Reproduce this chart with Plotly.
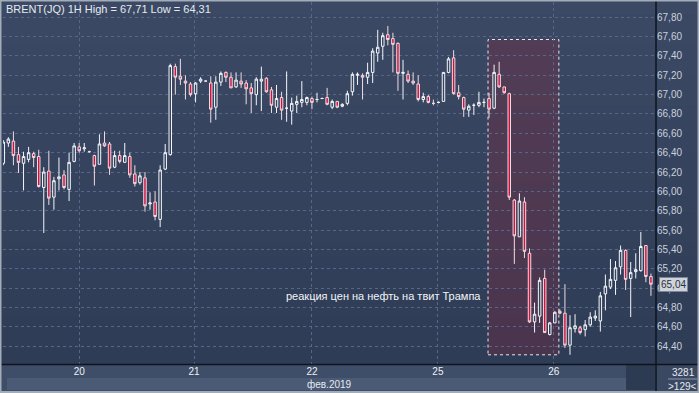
import plotly.graph_objects as go

# ---------------- data ----------------
opens = [66.29, 66.50, 66.52, 66.38, 66.29, 66.33, 66.39, 66.36, 66.04, 66.21,
         65.94, 66.13, 66.17, 66.02, 66.31, 66.46, 66.44, 66.41, 66.37, 66.28,
         66.50, 66.49, 66.25, 66.37, 66.30, 66.36, 66.18, 66.09, 66.14, 65.87,
         65.89, 65.71, 66.23, 66.38, 67.29, 67.19, 67.14, 67.11, 67.01, 67.14,
         67.14, 67.12, 66.87, 67.13, 67.23, 67.18, 67.08, 67.14, 67.12, 67.07,
         67.00, 67.14, 67.17, 67.05, 66.87, 66.97, 66.86, 66.83, 66.90, 66.92,
         66.92, 66.96, 66.95, 66.96, 66.97, 66.87, 66.93, 66.88, 66.91, 67.03,
         67.20, 67.20, 67.18, 67.23, 67.43, 67.50, 67.62, 67.58, 67.53, 67.22,
         67.21, 67.14, 67.11, 66.95, 66.98, 66.91, 66.92, 66.93, 67.23, 67.38,
         67.02, 66.97, 66.84, 66.89, 66.89, 66.92, 66.96, 66.86, 67.21, 67.08,
         67.01, 65.91, 65.53, 65.89, 65.36, 64.65, 64.71, 65.10, 64.52, 64.64,
         64.76, 64.74, 64.41, 64.58, 64.59, 64.57, 64.62, 64.69, 64.66, 64.94,
         65.01, 65.08, 65.22, 65.39, 65.10, 65.17, 65.18, 65.44, 65.12]
highs = [66.53, 66.56, 66.62, 66.46, 66.41, 66.46, 66.41, 66.43, 66.25, 66.42,
         66.15, 66.35, 66.22, 66.40, 66.50, 66.50, 66.50, 66.42, 66.38, 66.59,
         66.62, 66.51, 66.42, 66.42, 66.50, 66.40, 66.27, 66.20, 66.20, 65.99,
         66.00, 66.27, 66.49, 67.32, 67.32, 67.37, 67.20, 67.13, 67.13, 67.18,
         67.15, 67.19, 67.19, 67.24, 67.24, 67.23, 67.23, 67.23, 67.15, 67.12,
         67.18, 67.29, 67.18, 67.08, 67.10, 67.03, 67.24, 66.97, 66.99, 67.14,
         66.98, 66.98, 67.02, 66.97, 67.07, 66.95, 66.93, 66.91, 67.04, 67.23,
         67.23, 67.22, 67.33, 67.48, 67.67, 67.64, 67.71, 67.64, 67.54, 67.36,
         67.25, 67.23, 67.20, 67.02, 67.00, 66.95, 66.93, 67.23, 67.39, 67.46,
         67.10, 66.98, 66.90, 66.91, 67.03, 66.96, 67.02, 67.31, 67.34, 67.08,
         67.02, 65.92, 65.98, 65.94, 65.41, 64.85, 65.11, 65.19, 64.65, 64.76,
         64.78, 65.04, 64.72, 64.73, 64.61, 64.67, 64.75, 64.77, 64.96, 65.14,
         65.30, 65.28, 65.44, 65.40, 65.27, 65.36, 65.58, 65.44, 65.15]
lows = [66.27, 66.46, 66.27, 66.19, 66.01, 66.30, 66.25, 66.04, 65.57, 65.86,
        65.81, 66.01, 66.02, 65.90, 66.30, 66.40, 66.41, 66.40, 66.06, 66.28,
        66.46, 66.17, 66.24, 66.29, 66.30, 66.14, 66.05, 66.07, 65.79, 65.81,
        65.70, 65.63, 66.22, 66.37, 67.00, 67.10, 66.95, 66.98, 66.92, 67.12,
        67.14, 66.71, 66.74, 67.09, 67.13, 67.07, 67.07, 67.07, 66.90, 66.81,
        66.89, 66.83, 67.02, 66.81, 66.81, 66.74, 66.72, 66.69, 66.81, 66.87,
        66.89, 66.85, 66.92, 66.96, 66.89, 66.85, 66.86, 66.87, 66.89, 66.99,
        67.10, 66.95, 67.11, 67.12, 67.34, 67.36, 67.51, 67.23, 67.04, 66.95,
        67.12, 67.10, 66.93, 66.92, 66.91, 66.89, 66.91, 66.93, 67.22, 67.00,
        66.95, 66.77, 66.77, 66.79, 66.87, 66.87, 66.76, 66.85, 67.07, 67.01,
        65.91, 65.25, 65.53, 65.31, 64.64, 64.54, 64.64, 64.54, 64.51, 64.64,
        64.73, 64.38, 64.31, 64.54, 64.52, 64.50, 64.60, 64.66, 64.55, 64.77,
        64.99, 64.93, 65.14, 64.98, 64.70, 65.10, 65.17, 65.06, 64.92]
closes = [66.51, 66.54, 66.37, 66.30, 66.36, 66.40, 66.35, 66.05, 66.20, 65.93,
          66.11, 66.15, 66.04, 66.30, 66.47, 66.42, 66.45, 66.41, 66.26, 66.49,
          66.47, 66.24, 66.37, 66.31, 66.37, 66.17, 66.08, 66.16, 65.85, 65.88,
          65.74, 66.22, 66.40, 67.30, 67.18, 67.16, 67.12, 67.00, 67.12, 67.16,
          67.14, 66.85, 67.13, 67.22, 67.18, 67.07, 67.15, 67.11, 67.06, 67.01,
          67.16, 67.16, 67.03, 66.89, 66.96, 66.84, 66.86, 66.91, 66.93, 66.95,
          66.97, 66.92, 66.95, 66.96, 66.90, 66.93, 66.87, 66.90, 67.01, 67.21,
          67.21, 67.18, 67.23, 67.45, 67.49, 67.61, 67.57, 67.52, 67.22, 67.23,
          67.14, 67.12, 66.95, 66.98, 66.92, 66.91, 66.92, 67.23, 67.37, 67.01,
          66.98, 66.85, 66.88, 66.89, 66.92, 66.92, 66.85, 67.23, 67.08, 67.02,
          65.94, 65.54, 65.90, 65.38, 64.65, 64.73, 65.08, 64.54, 64.64, 64.75,
          64.74, 64.41, 64.59, 64.61, 64.54, 64.62, 64.70, 64.71, 64.92, 65.02,
          65.09, 65.21, 65.39, 65.09, 65.16, 65.19, 65.43, 65.12, 65.04]
bars = list(range(len(opens)))

day_tick_pos = [15, 37.7, 61, 85.9, 108.8]
day_labels = ["20", "21", "22", "25", "26"]
price_ticks = [64.4, 64.6, 64.8, 65.0, 65.2, 65.4, 65.6, 65.8, 66.0,
               66.2, 66.4, 66.6, 66.8, 67.0, 67.2, 67.4, 67.6, 67.8]
price_labels = [f"{v:.2f}".replace(".", ",") for v in price_ticks]

title_text = "BRENT(JQ) 1H High = 67,71 Low = 64,31"
note_text = "реакция цен на нефть на твит Трампа"
month_text = "фев.2019"
last_price = closes[-1]
tweet_window = [95.8, 109.8]
tweet_range = [64.31, 67.57]

# ---------------- figure ----------------
BG = "#34435e"
GRID = "#56678a"
FONT = "Liberation Sans, Arial, sans-serif"

fig = go.Figure()
fig.add_trace(go.Candlestick(
    x=bars, open=opens, high=highs, low=lows, close=closes,
    increasing=dict(line=dict(color="#f4f6fa", width=1), fillcolor=BG),
    decreasing=dict(line=dict(color="#f1dbe2", width=1), fillcolor="#c8163f"),
    whiskerwidth=0, showlegend=False, hoverinfo="skip",
))

L, R, T, B = 3, 43, 2, 29
W, H = 699, 393
pw, ph = W - L - R, H - T - B


def px(xp):
    return (xp - L) / pw


def py(yp):
    return (H - B - yp) / ph


# soft vertical gradient of the chart background (top lighter, bottom darker)
shapes = []
top_rgb = (59, 73, 100)
bot_rgb = (46, 60, 86)
n_band = 24
for k in range(n_band):
    t = k / (n_band - 1)
    col = tuple(round(top_rgb[j] + (bot_rgb[j] - top_rgb[j]) * t) for j in range(3))
    y_top = 0 + 364 * k / n_band
    y_bot = 0 + 364 * (k + 1) / n_band
    shapes.append(dict(type="rect", xref="paper", yref="paper", x0=px(0), x1=px(699),
                       y0=py(y_bot + 0.5), y1=py(y_top), fillcolor="rgb(%d,%d,%d)" % col,
                       line=dict(width=0), layer="below"))

shapes += [
    # bottom axis band
    dict(type="rect", xref="paper", yref="paper", x0=px(0), x1=px(656), y0=py(393), y1=py(364),
         fillcolor="#3e4d68", line=dict(width=0), layer="below"),
    dict(type="rect", xref="paper", yref="paper", x0=px(7), x1=px(626), y0=py(390), y1=py(378),
         fillcolor="#4b5a75", line=dict(width=0), layer="below"),
    dict(type="rect", xref="paper", yref="paper", x0=px(626), x1=px(655), y0=py(390), y1=py(365),
         fillcolor="#2c3a52", line=dict(width=0), layer="below"),
    dict(type="rect", xref="paper", yref="paper", x0=px(656), x1=px(699), y0=py(393), y1=py(364),
         fillcolor="#3a4862", line=dict(width=0), layer="below"),
    dict(type="line", xref="paper", yref="paper", x0=px(668), x1=px(697), y0=py(379), y1=py(379),
         line=dict(color="#8d98aa", width=1)),
    # plot bottom and right borders
    dict(type="line", xref="paper", yref="paper", x0=px(0), x1=px(699), y0=py(364.5), y1=py(364.5),
         line=dict(color="#0f141c", width=1.5)),
    dict(type="line", xref="paper", yref="paper", x0=px(656), x1=px(656), y0=py(393), y1=py(0),
         line=dict(color="#0f141c", width=1.5)),
    # outer frame
    dict(type="rect", xref="paper", yref="paper", x0=px(0.5), x1=px(698.5), y0=py(392), y1=py(0.5),
         line=dict(color="#a3acb9", width=2)),
    # tweet reaction window
    dict(type="rect", xref="x", yref="y", x0=tweet_window[0], x1=tweet_window[1],
         y0=tweet_range[0], y1=tweet_range[1],
         fillcolor="rgba(135,40,62,0.33)", line=dict(color="#e8e8ee", width=1, dash="dot"),
         layer="below"),
]

annotations = [
    dict(text=title_text, xref="paper", yref="paper", x=px(4), y=py(9), xanchor="left",
         yanchor="middle", showarrow=False, font=dict(family=FONT, size=11, color="#e6eaf0")),
    dict(text=note_text, x=94.9, y=64.92, xanchor="right", yanchor="middle", showarrow=False,
         font=dict(family=FONT, size=11, color="#f2f4f8")),
    dict(text=month_text, xref="paper", yref="paper", x=px(330), y=py(384), xanchor="center",
         yanchor="middle", showarrow=False, font=dict(family=FONT, size=10, color="#e6eaf0")),
    dict(text="3281", xref="paper", yref="paper", x=px(683), y=py(372), xanchor="center",
         yanchor="middle", showarrow=False, font=dict(family=FONT, size=10, color="#e6eaf0")),
    dict(text="&gt;129&lt;", xref="paper", yref="paper", x=px(682), y=py(386), xanchor="center",
         yanchor="middle", showarrow=False, font=dict(family=FONT, size=10, color="#e6eaf0")),
    dict(text=f"{last_price:.2f}".replace(".", ","), xref="paper", yref="y", x=px(659),
         y=last_price, xanchor="left", yanchor="middle", showarrow=False,
         bgcolor="#cfd3da", bordercolor="#7d8697", borderwidth=1, borderpad=1,
         font=dict(family=FONT, size=10, color="#2a3140")),
]

fig.update_layout(
    width=W, height=H,
    margin=dict(l=L, r=R, t=T, b=B),
    paper_bgcolor=BG, plot_bgcolor=BG,
    shapes=shapes, annotations=annotations,
    showlegend=False,
    xaxis=dict(range=[-0.06, 129.0], rangeslider=dict(visible=False),
               tickvals=day_tick_pos, ticktext=day_labels, ticks="",
               showgrid=True, gridcolor=GRID, griddash="3px,3px", gridwidth=1,
               zeroline=False, showline=False,
               tickfont=dict(family=FONT, size=10, color="#eef1f5")),
    yaxis=dict(range=[64.215, 67.958], side="right", tickvals=price_ticks, ticktext=price_labels,
               ticks="", showgrid=True, gridcolor=GRID, griddash="3px,3px", gridwidth=1,
               zeroline=False, showline=False,
               tickfont=dict(family=FONT, size=10, color="#c9d1de")),
)

fig.write_html("out.html", config={"displayModeBar": False},
               post_script="document.body.style.margin='0';document.body.style.overflow='hidden';")
